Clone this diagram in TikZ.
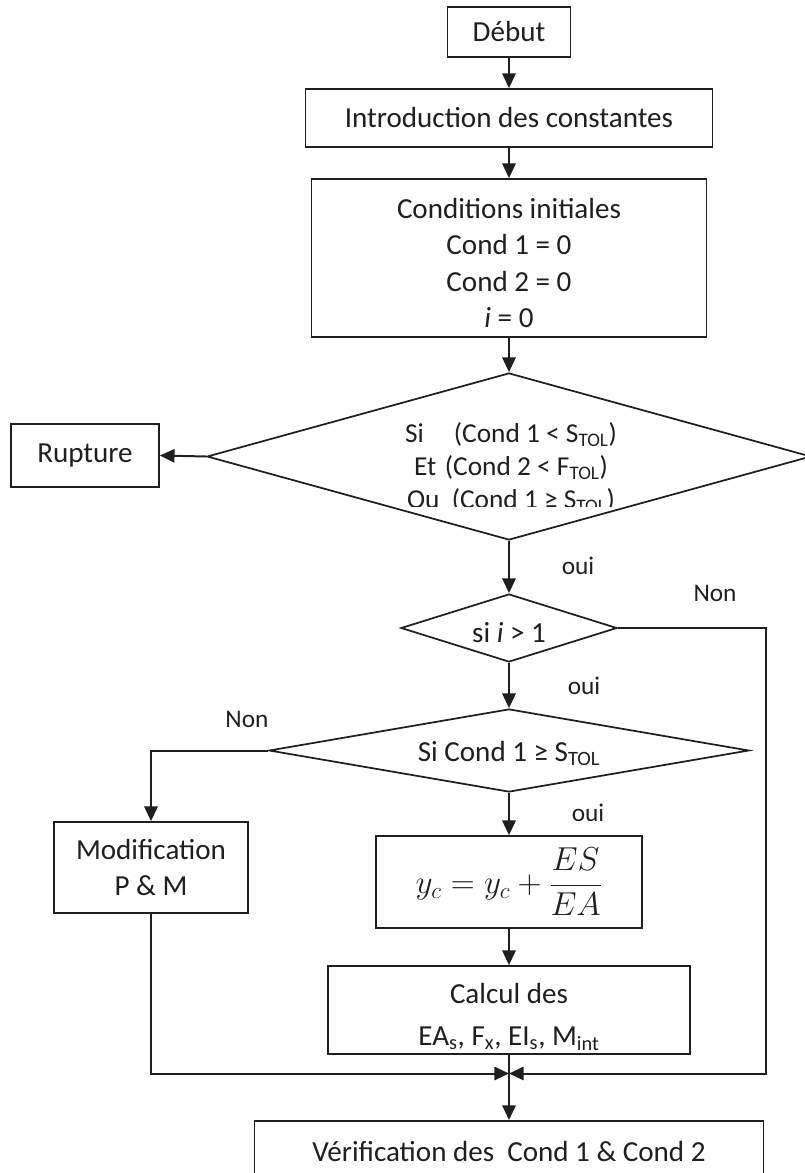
\documentclass[tikz,border=0pt]{standalone}
\usepackage{fontspec}
\setmainfont{Carlito}
\usetikzlibrary{shapes.geometric,arrows.meta}
\def\px{0.75pt}
\begin{document}
\begin{tikzpicture}[x=0.75pt,y=-0.75pt,
  line/.style={draw=black!88, line width=1.5pt},
  arr/.style={line, -{Triangle[length=11pt,width=10pt]}},
  box/.style={draw=black!88, line width=1.3pt, rectangle, inner sep=0pt, align=center, text=black!88, font=\fontsize{21.8}{27.2}\selectfont},
  txt/.style={inner sep=0pt, align=center, text=black!88, font=\fontsize{21.8}{27.2}\selectfont},
  dia/.style={draw=black!88, line width=1.3pt, diamond, inner sep=0pt, text=black!88},
  dtext/.style={text=black!88, inner sep=0pt, anchor=base, font=\fontsize{20.5}{24}\selectfont},
  lbl/.style={text=black!88, inner sep=0pt, font=\fontsize{19}{22}\selectfont}
]
\useasboundingbox (0,0) rectangle (804,1173);

% boxes
\node[box, minimum width=123*\px, minimum height=50*\px] (debut) at (509,32) {Début};
\node[box, minimum width=407*\px, minimum height=58*\px] (intro) at (509,118) {Introduction des constantes};
\node[box, minimum width=395*\px, minimum height=158*\px] (cond) at (509,258) {};
\node[txt] (condt) at (509,263) {Conditions initiales\\Cond 1 = 0\\Cond 2 = 0\\\textit{i} = 0};

% big diamond
\node[dia, aspect=3.6, minimum width=604*\px, minimum height=167*\px] (d1) at (509,456.5) {};
\begin{scope}
  \clip (207,373) rectangle (811,506.5);
  \node[dtext] (d1a) at (511,442) {Si\hspace{1.1em}(Cond 1 < S\textsubscript{TOL})};
  \node[dtext] (d1b) at (511,475) {Et\hspace{0.32em}(Cond 2 < F\textsubscript{TOL})};
  \node[dtext] (d1c) at (511,508) {Ou\hspace{0.45em}(Cond 1 ≥ S\textsubscript{TOL})};
\end{scope}
\node[box, minimum width=148*\px, minimum height=63*\px] (rupt) at (85,455.5) {Rupture};

% small diamond
\node[dia, aspect=3.18, minimum width=216*\px, minimum height=68*\px, font=\fontsize{21.8}{26}\selectfont, text height=22pt, text depth=0pt] (d2) at (509,628) {si \textit{i} > 1};

% third diamond
\node[dia, aspect=5.78, minimum width=480*\px, minimum height=83*\px, font=\fontsize{21.8}{26}\selectfont, text height=15.8pt, text depth=0pt] (d3) at (509,750.5) {Si Cond 1 ≥ S\textsubscript{TOL}};

\node[box, minimum width=194*\px, minimum height=91*\px] (modif) at (151,867.5) {Modification\\P \& M};
\node[box, minimum width=266*\px, minimum height=92*\px, font=\fontsize{23}{28}\selectfont] (yc) at (509,882) {$\displaystyle y_c = y_c + \frac{ES}{EA}$};
\node[box, minimum width=362*\px, minimum height=88*\px] (calc) at (509,1010) {};
\node[txt] (calct) at (509,1017) {Calcul des\\[4pt]EA\textsubscript{s}, F\textsubscript{x}, EI\textsubscript{s}, M\textsubscript{int}};
\node[box, anchor=north, minimum width=509*\px, minimum height=62*\px] (verif) at (509,1120) {Vérification des\ \ Cond 1 \& Cond 2};

\coordinate (j) at (509,1073.5);
\coordinate (rx) at (766,628);

% connectors
\draw[arr] (debut.south) -- (intro.north);
\draw[arr] (intro.south) -- (cond.north);
\draw[arr] (cond.south) -- (d1.north);
\draw[arr] (d1.west) -- (rupt.east);
\draw[arr] (d1.south) -- (d2.north);
\draw[arr] (d2.east) -- (rx) |- (j);
\draw[arr] (d2.south) -- (d3.north);
\draw[arr] (d3.west) -| (modif.north);
\draw[arr] (d3.south) -- (yc.north);
\draw[arr] (yc.south) -- (calc.north);
\draw[arr] (modif.south) |- (j);
\draw[arr] (calc.south) -- (verif.north);

% labels
\node[lbl] (oui1) at (578,566) {oui};
\node[lbl] (non1) at (715,593) {Non};
\node[lbl] (oui2) at (584,686) {oui};
\node[lbl] (non2) at (247,719) {Non};
\node[lbl] (oui3) at (588,813) {oui};
\end{tikzpicture}
\end{document}
